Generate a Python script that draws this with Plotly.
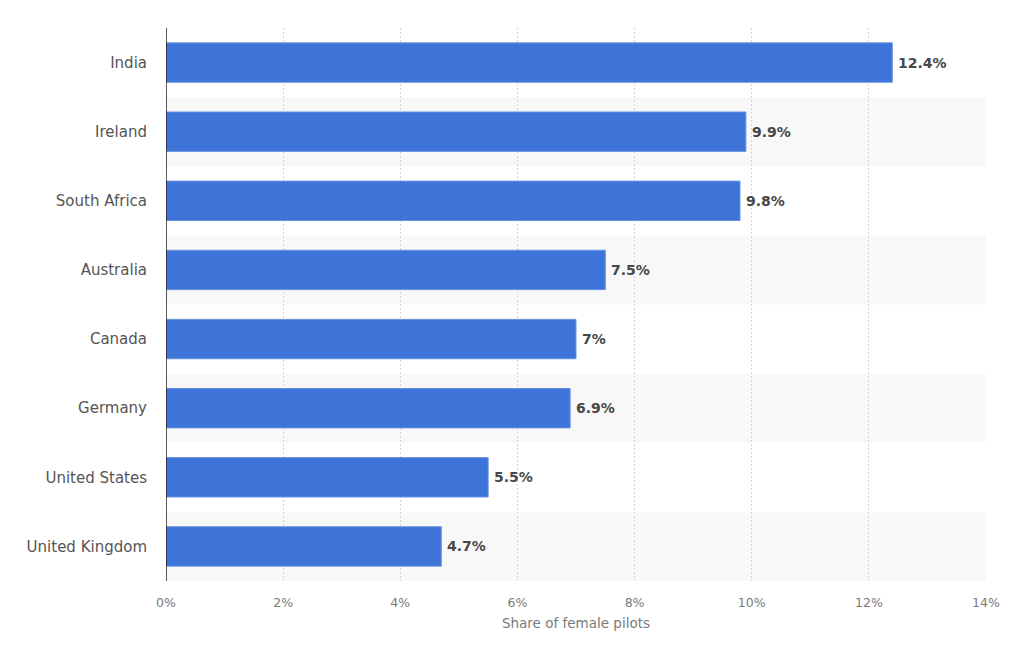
import plotly.graph_objects as go

countries = ["India", "Ireland", "South Africa", "Australia", "Canada", "Germany", "United States", "United Kingdom"]
shares = [12.4, 9.9, 9.8, 7.5, 7.0, 6.9, 5.5, 4.7]
labels = ["12.4%", "9.9%", "9.8%", "7.5%", "7%", "6.9%", "5.5%", "4.7%"]
tick_vals = [0, 2, 4, 6, 8, 10, 12, 14]
tick_text = ["0%", "2%", "4%", "6%", "8%", "10%", "12%", "14%"]

FONT = "DejaVu Sans, sans-serif"

fig = go.Figure()
fig.add_trace(go.Bar(
    y=countries, x=shares, orientation="h",
    marker=dict(color="#3e73d7", line=dict(color="#6a93e0", width=1)),
    width=0.57, hoverinfo="skip",
))

for c, v, t in zip(countries, shares, labels):
    fig.add_annotation(x=v, y=c, text=t, xref="x", yref="y", showarrow=False,
                       xanchor="left", xshift=4,
                       font=dict(family=FONT, size=14, color="#474747", weight="bold"))

shapes = []
for i in range(len(countries)):
    if i % 2 == 1:
        shapes.append(dict(type="rect", xref="x", yref="y", x0=0, x1=14,
                           y0=i - 0.5, y1=i + 0.5, fillcolor="#f8f8f8",
                           line=dict(width=0), layer="below"))

fig.update_layout(
    width=1024, height=649,
    margin=dict(l=158, r=46, t=20, b=76),
    plot_bgcolor="white", paper_bgcolor="white",
    showlegend=False, shapes=shapes,
    xaxis=dict(range=[0, 14], tickvals=tick_vals, ticktext=tick_text,
               showgrid=True, gridcolor="#d2d2d2", griddash="2px,2px", gridwidth=1,
               zeroline=False, showline=False,
               tickfont=dict(family=FONT, size=12.5, color="#7a7a7a"),
               ticks="", ticklabelstandoff=12,
               title=dict(text="Share of female pilots", standoff=10,
                          font=dict(family=FONT, size=13.5, color="#7a7a7a"))),
    yaxis=dict(autorange="reversed", showgrid=False, zeroline=False,
               showline=False, ticks="", ticklabelstandoff=18,
               tickfont=dict(family=FONT, size=15, color="#555555")),
)
fig.add_shape(type="line", xref="x", yref="paper", x0=0, x1=0, y0=0, y1=1,
              line=dict(color="#222222", width=1.5))

fig.write_html("out.html")
